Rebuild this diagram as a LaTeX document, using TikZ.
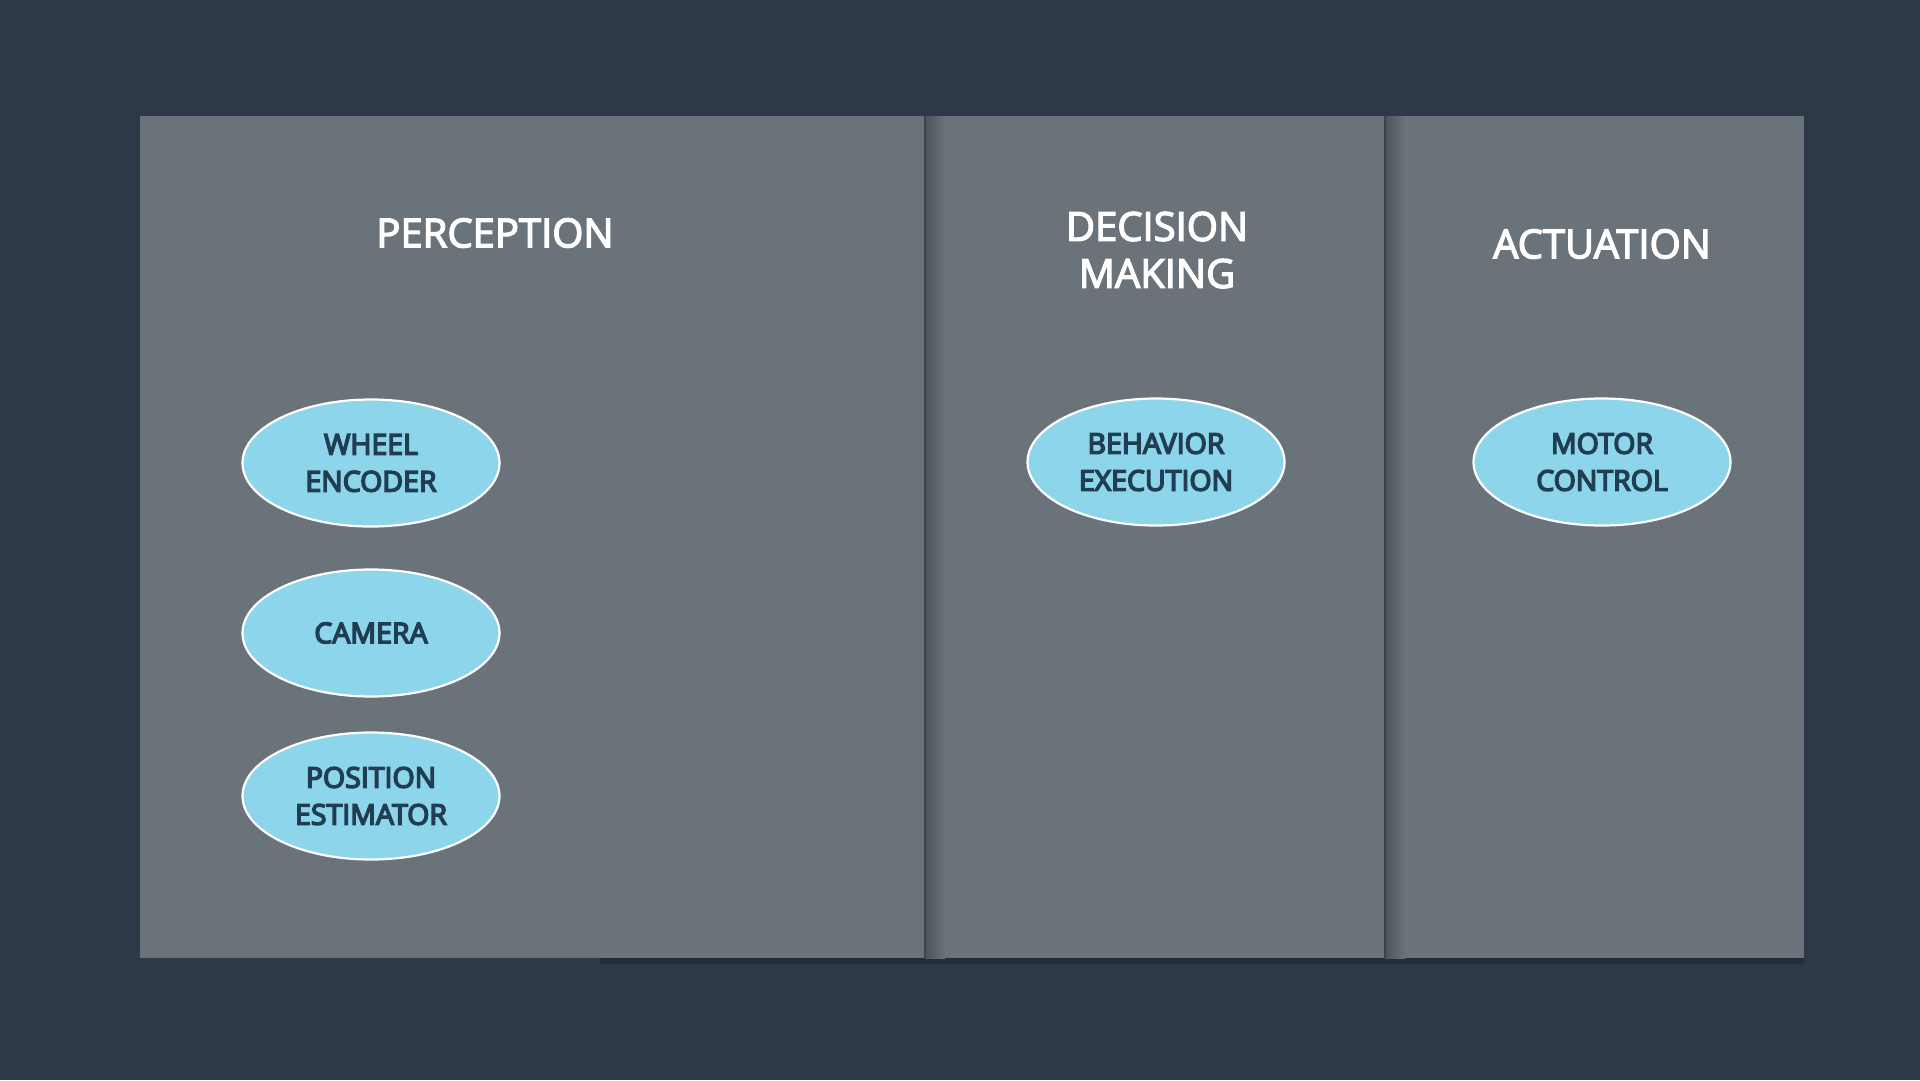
\documentclass[tikz,border=0pt]{standalone}
\usepackage{fontspec}
\setmainfont{Open Sans}
\usetikzlibrary{shapes.geometric,fadings}
\definecolor{bgc}{HTML}{2D3947}
\definecolor{panelc}{HTML}{6B737A}
\definecolor{ellc}{HTML}{8DD5EB}
\definecolor{etext}{HTML}{213D52}
\definecolor{shadowc}{HTML}{4C545B}
\newcommand{\strk}[2]{\special{pdf:literal direct 2 Tr #1 w}#2\special{pdf:literal direct 0 Tr}}
\tikzset{
  blob/.style={ellipse, fill=ellc, draw=white, line width=2.2pt, minimum width=257pt, minimum height=127pt, inner sep=0pt, align=center, text=etext, font=\fontsize{28.5}{37}\selectfont},
  title/.style={text=white, align=center, font=\fontsize{40}{47}\selectfont}
}
\begin{document}
\begin{tikzpicture}[x=1pt,y=-1pt]
\fill[bgc] (0,0) rectangle (1920,1080);
\useasboundingbox (0,0) rectangle (1920,1080);
% bottom shadow
\fill[black, opacity=0.18] (600,958) rectangle (1804,964);
% panels
\fill[panelc] (140,116) rectangle (1804,958);
% divider shadows
\shade[left color=shadowc, right color=panelc] (925,116) rectangle (945,958);
\shade[left color=shadowc, right color=panelc] (1385,116) rectangle (1405,958);
\draw[shadowc!80!black, line width=1.2pt] (925,116) -- (925,958);
\draw[shadowc!80!black, line width=1.2pt] (1385,116) -- (1385,958);
% titles
\node[title] (tperc) at (495,233) {\strk{1.3}{PERCEPTION}};
\node[title] (tdec) at (1157,250) {\strk{1.3}{DECISION}\\\strk{1.3}{MAKING}};
\node[title] (tact) at (1602,244) {\strk{1.3}{ACTUATION}};
% ellipses
\node[blob] (wheel) at (371,463) {\strk{1.5}{WHEEL}\\\strk{1.5}{ENCODER}};
\node[blob] (camera) at (371,633) {\strk{1.5}{CAMERA}};
\node[blob] (pos) at (371,796) {\strk{1.5}{POSITION}\\\strk{1.5}{ESTIMATOR}};
\node[blob] (behav) at (1156,462) {\strk{1.5}{BEHAVIOR}\\\strk{1.5}{EXECUTION}};
\node[blob] (motor) at (1602,462) {\strk{1.5}{MOTOR}\\\strk{1.5}{CONTROL}};
\end{tikzpicture}
\end{document}
